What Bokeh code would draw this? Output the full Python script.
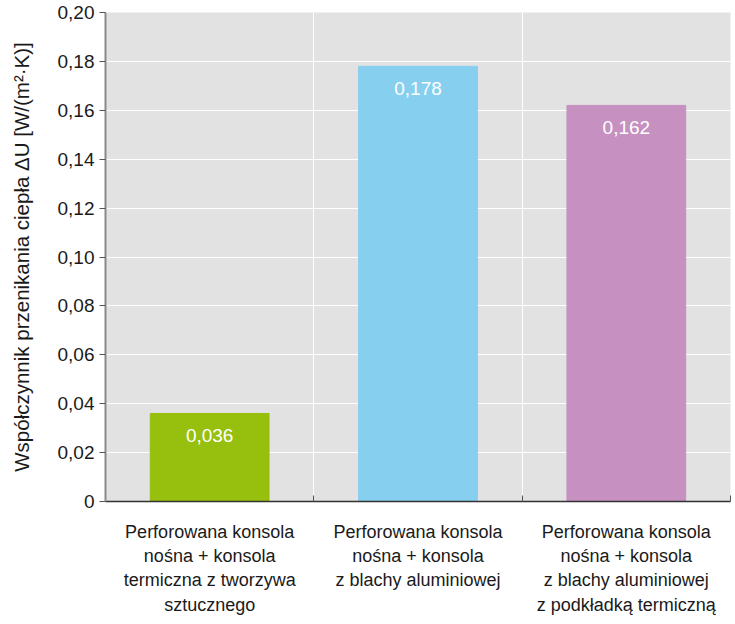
from bokeh.plotting import figure
from bokeh.models import ColumnDataSource, FixedTicker, Range1d
from bokeh.embed import file_html
from bokeh.resources import INLINE
from bokeh.core.properties import value

# Heat transfer coefficient increase for three bracket variants
categories = [
    "Perforowana konsola\nnośna + konsola\ntermiczna z tworzywa\nsztucznego",
    "Perforowana konsola\nnośna + konsola\nz blachy aluminiowej",
    "Perforowana konsola\nnośna + konsola\nz blachy aluminiowej\nz podkładką termiczną",
]
delta_u = [0.036, 0.178, 0.162]
colors = ["#97BF0D", "#86CFEF", "#C691C0"]
y_ticks = [0.0, 0.02, 0.04, 0.06, 0.08, 0.10, 0.12, 0.14, 0.16, 0.18, 0.20]

FONT = "Liberation Sans"

positions = [i + 0.5 for i in range(len(categories))]
source = ColumnDataSource(dict(
    x=positions,
    top=delta_u,
    color=colors,
    label=[f"{v:.3f}".replace(".", ",") for v in delta_u],
))

p = figure(
    width=735, height=624,
    x_range=Range1d(0, len(categories)),
    y_range=Range1d(0, 0.20),
    output_backend="svg", toolbar_location=None,
    min_border_left=105, min_border_right=5,
    min_border_top=12, min_border_bottom=123,
)
p.background_fill_color = "#E1E2E1"
p.border_fill_color = "white"
p.outline_line_color = None

p.vbar(x="x", top="top", width=0.57, color="color", source=source)
p.text(x="x", y="top", text="label", source=source,
       text_color="white", text_font=value(FONT), text_font_size="19px",
       text_align="center", text_baseline="middle", y_offset=22)

# grid
p.ygrid.ticker = FixedTicker(ticks=y_ticks)
p.ygrid.grid_line_color = "white"
p.ygrid.grid_line_width = 1
p.xgrid.ticker = FixedTicker(ticks=[1, 2, 3])
p.xgrid.grid_line_color = "white"
p.xgrid.grid_line_width = 1

# y axis
p.yaxis.ticker = FixedTicker(ticks=y_ticks)
p.yaxis.major_label_overrides = {
    t: ("0" if t == 0 else f"{t:.2f}".replace(".", ",")) for t in y_ticks
}
p.yaxis.axis_label = "Współczynnik przenikania ciepła ΔU [W/(m²·K)]"
p.yaxis.axis_label_text_font = FONT
p.yaxis.axis_label_text_font_size = "20.5px"
p.yaxis.axis_label_text_font_style = "normal"
p.yaxis.axis_label_text_color = "#1a1a1a"
p.yaxis.axis_label_standoff = 22
p.yaxis.major_label_text_font = FONT
p.yaxis.major_label_text_font_size = "19px"
p.yaxis.major_label_text_color = "#1a1a1a"
p.yaxis.major_label_standoff = 5
p.yaxis.axis_line_color = "#8a8a8a"
p.yaxis.axis_line_width = 2
p.yaxis.major_tick_line_color = "#555555"
p.yaxis.major_tick_in = 0
p.yaxis.major_tick_out = 6
p.yaxis.minor_tick_line_color = None

# x axis: labels at category centres, small marks at boundaries
p.xaxis.ticker = FixedTicker(ticks=positions, minor_ticks=[1, 2, 3])
p.xaxis.major_label_overrides = {pos: cat for pos, cat in zip(positions, categories)}
p.xaxis.major_label_text_font = FONT
p.xaxis.major_label_text_font_size = "18px"
p.xaxis.major_label_text_color = "#1a1a1a"
p.xaxis.major_label_text_align = "center"
p.xaxis.major_label_standoff = 14
p.xaxis.major_label_text_line_height = 1.22
p.xaxis.major_tick_line_color = None
p.xaxis.minor_tick_line_color = "#555555"
p.xaxis.minor_tick_in = 6
p.xaxis.minor_tick_out = 0
p.xaxis.axis_line_color = "#333333"
p.xaxis.axis_line_width = 1.5

open("out.html", "w").write(file_html(p, INLINE))
